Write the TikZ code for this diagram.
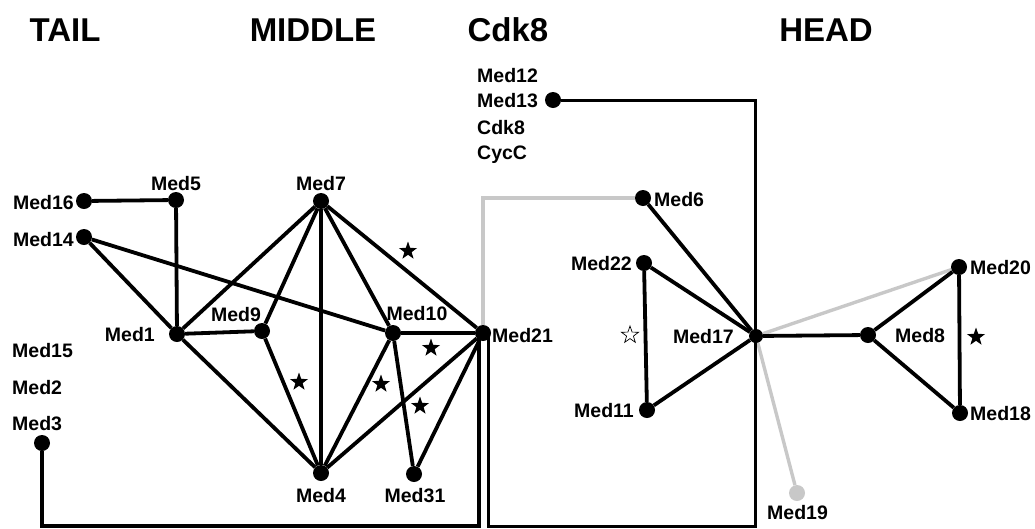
\documentclass[tikz,border=0pt]{standalone}
\usepackage{fontspec}
\setmainfont{Liberation Sans}
\usetikzlibrary{shapes.geometric,calc}
\definecolor{lgray}{RGB}{200,200,200}
\begin{document}
\begin{tikzpicture}[x=1pt,y=-1pt,
  dot/.style={circle,fill=black,minimum size=16pt,inner sep=0pt},
  gdot/.style={dot,fill=lgray},
  lab/.style={font=\fontsize{19.5}{19.5}\selectfont\bfseries,inner sep=0pt,text depth=0pt},
  head/.style={font=\fontsize{33}{33}\selectfont\bfseries,inner sep=0pt},
  edge/.style={line width=3.8pt},
  gedge/.style={line width=3.4pt,draw=lgray},
  conn/.style={line width=3.4pt},
  fstar/.style={star,star points=5,star point ratio=2.5,fill=black,minimum size=19pt,inner sep=0pt},
  ostar/.style={star,star points=5,star point ratio=2.5,draw=black,line width=0.7pt,fill=white,minimum size=18pt,inner sep=0pt}
]
\useasboundingbox (0,0) rectangle (1035,528);

% headings
\node[head] (hTail) at (65,30) {TAIL};
\node[head] (hMid) at (313,30) {MIDDLE};
\node[head] (hCdk) at (508,30) {Cdk8};
\node[head] (hHead) at (826,30) {HEAD};

% dots
\node[dot] (m16) at (84,201) {};
\node[dot] (m5) at (176,200) {};
\node[dot] (m14) at (84,237) {};
\node[dot] (m1) at (177,334) {};
\node[dot] (m9) at (262,331) {};
\node[dot] (m7) at (321,201) {};
\node[dot] (m10) at (393,333) {};
\node[dot] (m21) at (483,333) {};
\node[dot] (m4) at (321,473) {};
\node[dot] (m31) at (414,474) {};
\node[dot] (m3) at (42,443) {};
\node[dot] (m13) at (553,100) {};
\node[dot] (m6) at (643,198) {};
\node[dot] (m22) at (644,263) {};
\node[dot] (m11) at (647,410) {};
\node[dot,minimum size=14pt] (m17) at (756,336) {};
\node[gdot] (m19) at (797,493) {};
\node[dot] (m8) at (868,335) {};
\node[dot] (m20) at (959,267) {};
\node[dot] (m18) at (960,413) {};

% labels
\node[lab,anchor=east] (l16) at (74,202) {Med16};
\node[lab] (l5) at (176,183) {Med5};
\node[lab,anchor=east] (l14) at (74,239) {Med14};
\node[lab,anchor=east] (l1) at (155,334) {Med1};
\node[lab] (l9) at (236,314) {Med9};
\node[lab] (l7) at (321,183) {Med7};
\node[lab] (l10) at (417,313) {Med10};
\node[lab,anchor=west] (l21) at (492,335) {Med21};
\node[lab] (l4) at (321,495) {Med4};
\node[lab] (l31) at (415,495) {Med31};
\node[lab,anchor=west] (l15) at (12,350) {Med15};
\node[lab,anchor=west] (l2) at (12,387) {Med2};
\node[lab,anchor=west] (l3) at (12,423) {Med3};
\node[lab,anchor=west] (l12) at (477,75) {Med12};
\node[lab,anchor=west] (l13) at (477,100) {Med13};
\node[lab,anchor=west] (lcdk) at (477,127) {Cdk8};
\node[lab,anchor=west] (lcyc) at (477,153) {CycC};
\node[lab,anchor=west] (l6) at (654,199) {Med6};
\node[lab,anchor=east] (l22) at (632,263) {Med22};
\node[lab,anchor=east] (l11) at (634,410) {Med11};
\node[lab,anchor=east] (l17) at (734,336) {Med17};
\node[lab,anchor=west] (l19) at (767,512) {Med19};
\node[lab,anchor=west] (l8) at (895,335) {Med8};
\node[lab,anchor=west] (l20) at (970,267) {Med20};
\node[lab,anchor=west] (l18) at (970,413) {Med18};

% coordinates for long connectors
\coordinate (b1) at (479,526);
\coordinate (b2) at (488,526);
\coordinate (c2) at (755,526);

% gray connectors
\draw[gedge] (m21.north) |- (m6);
\draw[gedge] (m17) -- (m20);
\draw[gedge] (m17) -- (m19);

% long connectors
\draw[conn] (m3) |- (b1) -- (b1 |- m21);
\draw[conn,line width=3pt] (m13) -| (c2) -- (b2) -- (b2 |- m21);

% edges
\draw[edge] (m16) -- (m5);
\draw[edge] (m5) -- (m1);
\draw[edge] (m14) -- (m1);
\draw[edge] (m14) -- (m10);
\draw[edge] (m1) -- (m9);
\draw[edge] (m1) -- (m7);
\draw[edge] (m1) -- (m4);
\draw[edge] (m9) -- (m7);
\draw[edge] (m9) -- (m4);
\draw[edge] (m7) -- (m4);
\draw[edge] (m7) -- (m10);
\draw[edge] (m7) -- (m21);
\draw[edge] (m10) -- (m21);
\draw[edge] (m10) -- (m4);
\draw[edge] (m10) -- (m31);
\draw[edge] (m4) -- (m21);
\draw[edge] (m31) -- (m21);
\draw[edge] (m6) -- (m17);
\draw[edge] (m22) -- (m17);
\draw[edge] (m22) -- (m11);
\draw[edge] (m11) -- (m17);
\draw[edge] (m17) -- (m8);
\draw[edge] (m8) -- (m20);
\draw[edge] (m8) -- (m18);
\draw[edge] (m20) -- (m18);

% stars
\node[fstar] (s1) at (408,251) {};
\node[fstar] (s2) at (431,348) {};
\node[fstar] (s3) at (299,382) {};
\node[fstar] (s4) at (381,384) {};
\node[fstar] (s5) at (420,406) {};
\node[fstar] (s6) at (976,337) {};
\node[ostar] (s7) at (630,335) {};
\end{tikzpicture}
\end{document}
